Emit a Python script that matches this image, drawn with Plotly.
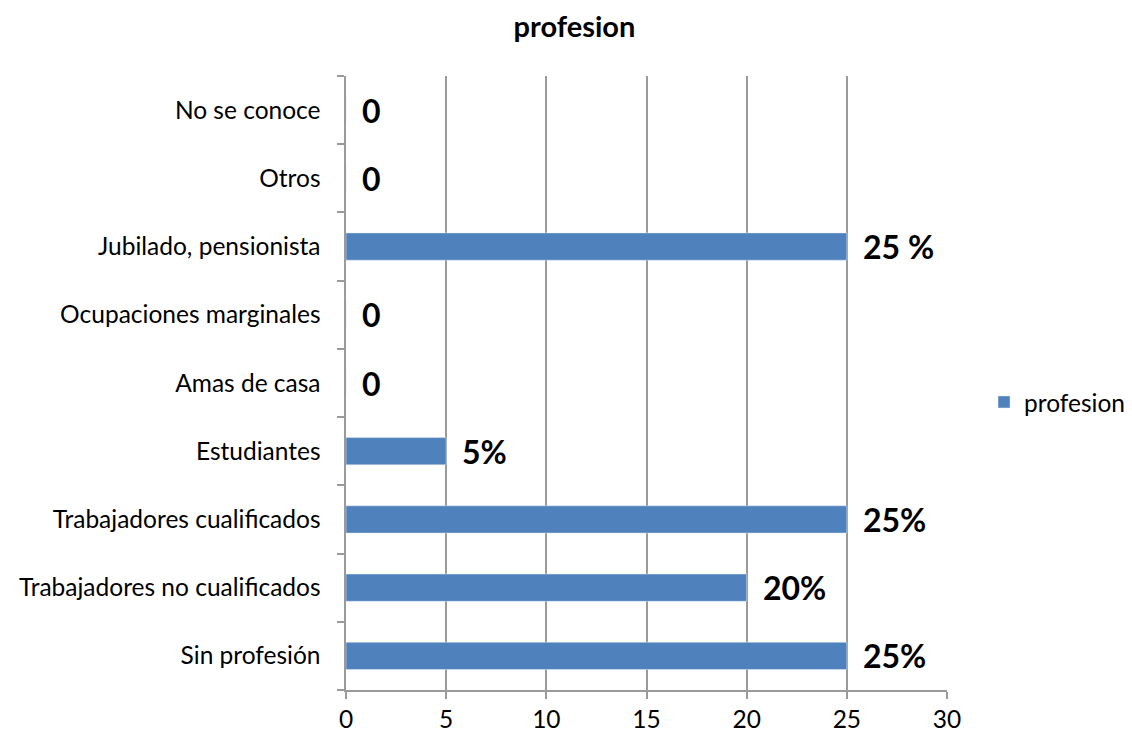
import plotly.graph_objects as go

categories = ["Sin profesión", "Trabajadores no cualificados", "Trabajadores cualificados",
              "Estudiantes", "Amas de casa", "Ocupaciones marginales",
              "Jubilado, pensionista", "Otros", "No se conoce"]
values = [25, 20, 25, 5, 0, 0, 25, 0, 0]
labels = ["25%", "20%", "25%", "5%", "0", "0", "25 %", "0", "0"]

FONT = "Lato"
GRID = "#9a9a9a"
FS = 24.5

fig = go.Figure()
fig.add_trace(go.Bar(
    y=categories, x=values, orientation="h", name="profesion",
    marker=dict(color="#4F81BD"), showlegend=True,
))

for c, v, t in zip(categories, values, labels):
    fig.add_annotation(x=v, y=c, text="<b>%s</b>" % t, showarrow=False,
                       xanchor="left", yanchor="middle", xshift=14,
                       font=dict(family=FONT, size=32, color="black"))

fig.update_layout(
    width=1132, height=737,
    margin=dict(l=338, r=193, t=68, b=55, autoexpand=False),
    paper_bgcolor="white", plot_bgcolor="white",
    bargap=0.6,
    font=dict(family=FONT, size=FS, color="black"),
    title=dict(text="<b>profesion</b>", x=0.5004, xanchor="center",
               y=1 - 19 / 737, yanchor="middle", yref="container",
               font=dict(family=FONT, size=29, color="black")),
    legend=dict(x=1.0616, y=0.469, xanchor="left", yanchor="middle",
                font=dict(family=FONT, size=FS), itemwidth=30),
    xaxis=dict(range=[0, 30], dtick=5, showgrid=True, gridcolor=GRID, gridwidth=1.5,
               showline=True, linecolor=GRID, linewidth=1.5,
               ticks="outside", ticklen=7, tickcolor=GRID, tickwidth=1.5,
               zeroline=False, automargin=False, tickfont=dict(family=FONT, size=FS)),
    yaxis=dict(categoryorder="array", categoryarray=categories,
               showline=True, linecolor=GRID, linewidth=1.5,
               ticks="outside", ticklen=7, tickcolor=GRID, tickwidth=1.5,
               tickson="boundaries", showgrid=False, ticksuffix="   ",
               automargin=False,
               tickfont=dict(family=FONT, size=FS)),
)

fig.write_html("out.html")
